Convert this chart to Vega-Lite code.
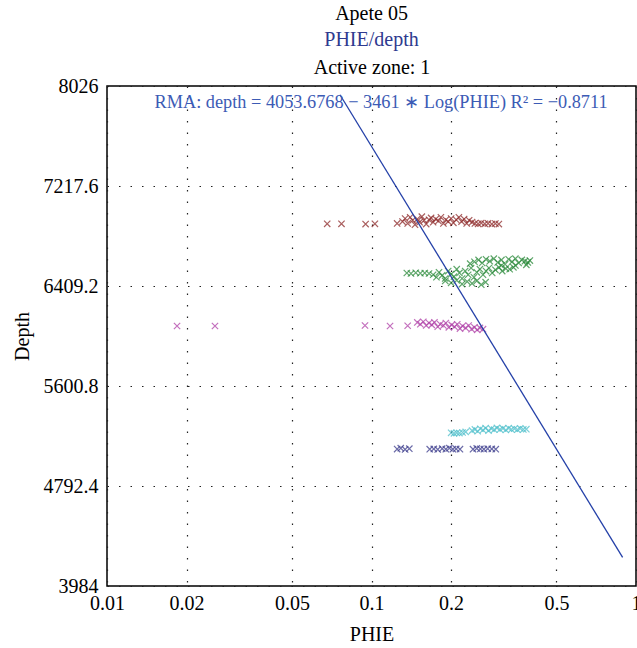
{
  "$schema": "https://vega.github.io/schema/vega-lite/v6.json",
  "width": 529,
  "height": 500,
  "autosize": {"type": "none"},
  "padding": {"left": 107, "top": 86, "right": 1, "bottom": 62},
  "background": "white",
  "config": {
    "view": {"stroke": "black", "strokeWidth": 1.5},
    "font": "Liberation Serif"
  },
  "title": {
    "text": "Apete 05",
    "subtitle": "PHIE/depth",
    "color": "black",
    "subtitleColor": "#2e3a8f",
    "fontSize": 20,
    "subtitleFontSize": 20,
    "fontWeight": "normal",
    "font": "Liberation Serif",
    "subtitleFont": "Liberation Serif",
    "anchor": "middle",
    "offset": 7,
    "subtitlePadding": 6
  },
  "datasets": {
    "pts": [
      {"s":"A","phie":0.068,"depth":6912},{"s":"A","phie":0.077,"depth":6912},{"s":"A","phie":0.095,"depth":6910},{"s":"A","phie":0.103,"depth":6912},{"s":"A","phie":0.125,"depth":6915},
      {"s":"A","phie":0.131,"depth":6930},{"s":"A","phie":0.134,"depth":6955},{"s":"A","phie":0.137,"depth":6915},{"s":"A","phie":0.14,"depth":6965},{"s":"A","phie":0.143,"depth":6940},{"s":"A","phie":0.146,"depth":6905},{"s":"A","phie":0.149,"depth":6950},{"s":"A","phie":0.152,"depth":6925},{"s":"A","phie":0.155,"depth":6970},{"s":"A","phie":0.158,"depth":6940},{"s":"A","phie":0.161,"depth":6910},{"s":"A","phie":0.165,"depth":6945},{"s":"A","phie":0.168,"depth":6960},{"s":"A","phie":0.171,"depth":6925},{"s":"A","phie":0.175,"depth":6950},{"s":"A","phie":0.179,"depth":6935},{"s":"A","phie":0.183,"depth":6965},{"s":"A","phie":0.187,"depth":6915},{"s":"A","phie":0.191,"depth":6945},{"s":"A","phie":0.195,"depth":6930},{"s":"A","phie":0.2,"depth":6955},{"s":"A","phie":0.204,"depth":6920},{"s":"A","phie":0.209,"depth":6945},{"s":"A","phie":0.214,"depth":6965},{"s":"A","phie":0.219,"depth":6930},{"s":"A","phie":0.224,"depth":6950},{"s":"A","phie":0.229,"depth":6915},{"s":"A","phie":0.234,"depth":6940},{"s":"A","phie":0.24,"depth":6925},
      {"s":"A","phie":0.246,"depth":6915},{"s":"A","phie":0.253,"depth":6912},{"s":"A","phie":0.26,"depth":6918},{"s":"A","phie":0.268,"depth":6912},{"s":"A","phie":0.276,"depth":6915},{"s":"A","phie":0.285,"depth":6910},{"s":"A","phie":0.294,"depth":6914},{"s":"A","phie":0.303,"depth":6910},
      {"s":"B","phie":0.136,"depth":6514},{"s":"B","phie":0.141,"depth":6510},{"s":"B","phie":0.147,"depth":6516},{"s":"B","phie":0.153,"depth":6512},{"s":"B","phie":0.159,"depth":6514},{"s":"B","phie":0.165,"depth":6510},
      {"s":"B","phie":0.171,"depth":6500},{"s":"B","phie":0.176,"depth":6480},{"s":"B","phie":0.18,"depth":6520},{"s":"B","phie":0.185,"depth":6495},{"s":"B","phie":0.19,"depth":6470},{"s":"B","phie":0.195,"depth":6530},{"s":"B","phie":0.2,"depth":6505},{"s":"B","phie":0.205,"depth":6485},{"s":"B","phie":0.21,"depth":6545},{"s":"B","phie":0.215,"depth":6515},{"s":"B","phie":0.22,"depth":6470},{"s":"B","phie":0.226,"depth":6530},{"s":"B","phie":0.232,"depth":6500},{"s":"B","phie":0.238,"depth":6555},{"s":"B","phie":0.244,"depth":6480},{"s":"B","phie":0.25,"depth":6520},{"s":"B","phie":0.257,"depth":6545},{"s":"B","phie":0.264,"depth":6500},{"s":"B","phie":0.271,"depth":6530},{"s":"B","phie":0.278,"depth":6555},{"s":"B","phie":0.286,"depth":6515},{"s":"B","phie":0.294,"depth":6540},{"s":"B","phie":0.303,"depth":6560},{"s":"B","phie":0.312,"depth":6530},{"s":"B","phie":0.322,"depth":6550},{"s":"B","phie":0.333,"depth":6545},{"s":"B","phie":0.344,"depth":6560},
      {"s":"B","phie":0.236,"depth":6590},{"s":"B","phie":0.245,"depth":6605},{"s":"B","phie":0.254,"depth":6620},{"s":"B","phie":0.262,"depth":6595},{"s":"B","phie":0.271,"depth":6625},{"s":"B","phie":0.28,"depth":6610},{"s":"B","phie":0.29,"depth":6630},{"s":"B","phie":0.3,"depth":6600},{"s":"B","phie":0.31,"depth":6620},{"s":"B","phie":0.32,"depth":6585},{"s":"B","phie":0.33,"depth":6625},{"s":"B","phie":0.34,"depth":6605},{"s":"B","phie":0.35,"depth":6630},{"s":"B","phie":0.36,"depth":6595},{"s":"B","phie":0.37,"depth":6620},{"s":"B","phie":0.38,"depth":6610},{"s":"B","phie":0.39,"depth":6600},{"s":"B","phie":0.397,"depth":6615},{"s":"B","phie":0.31,"depth":6575},{"s":"B","phie":0.35,"depth":6575},{"s":"B","phie":0.385,"depth":6580},
      {"s":"B","phie":0.19,"depth":6450},{"s":"B","phie":0.2,"depth":6435},{"s":"B","phie":0.21,"depth":6455},{"s":"B","phie":0.22,"depth":6425},{"s":"B","phie":0.23,"depth":6445},{"s":"B","phie":0.24,"depth":6430},{"s":"B","phie":0.25,"depth":6450},{"s":"B","phie":0.26,"depth":6420},{"s":"B","phie":0.27,"depth":6440},
      {"s":"C","phie":0.0184,"depth":6086},{"s":"C","phie":0.0256,"depth":6086},{"s":"C","phie":0.0945,"depth":6090},{"s":"C","phie":0.1175,"depth":6086},{"s":"C","phie":0.137,"depth":6088},
      {"s":"C","phie":0.149,"depth":6115},{"s":"C","phie":0.153,"depth":6100},{"s":"C","phie":0.157,"depth":6120},{"s":"C","phie":0.161,"depth":6090},{"s":"C","phie":0.165,"depth":6110},{"s":"C","phie":0.169,"depth":6095},{"s":"C","phie":0.173,"depth":6115},{"s":"C","phie":0.178,"depth":6080},{"s":"C","phie":0.182,"depth":6100},{"s":"C","phie":0.187,"depth":6090},{"s":"C","phie":0.191,"depth":6110},{"s":"C","phie":0.196,"depth":6075},{"s":"C","phie":0.201,"depth":6095},{"s":"C","phie":0.206,"depth":6080},{"s":"C","phie":0.211,"depth":6100},{"s":"C","phie":0.216,"depth":6065},{"s":"C","phie":0.221,"depth":6085},{"s":"C","phie":0.227,"depth":6070},{"s":"C","phie":0.233,"depth":6090},{"s":"C","phie":0.239,"depth":6060},{"s":"C","phie":0.245,"depth":6075},{"s":"C","phie":0.251,"depth":6055},{"s":"C","phie":0.257,"depth":6070},{"s":"C","phie":0.264,"depth":6060},
      {"s":"D","phie":0.2,"depth":5222},{"s":"D","phie":0.205,"depth":5218},{"s":"D","phie":0.21,"depth":5222},{"s":"D","phie":0.215,"depth":5220},{"s":"D","phie":0.221,"depth":5225},{"s":"D","phie":0.227,"depth":5230},
      {"s":"D","phie":0.24,"depth":5240},{"s":"D","phie":0.246,"depth":5250},{"s":"D","phie":0.252,"depth":5235},{"s":"D","phie":0.258,"depth":5255},{"s":"D","phie":0.264,"depth":5245},{"s":"D","phie":0.27,"depth":5260},{"s":"D","phie":0.277,"depth":5240},{"s":"D","phie":0.284,"depth":5255},{"s":"D","phie":0.291,"depth":5248},{"s":"D","phie":0.298,"depth":5262},{"s":"D","phie":0.306,"depth":5250},{"s":"D","phie":0.314,"depth":5258},{"s":"D","phie":0.322,"depth":5245},{"s":"D","phie":0.33,"depth":5260},{"s":"D","phie":0.338,"depth":5250},{"s":"D","phie":0.347,"depth":5255},{"s":"D","phie":0.356,"depth":5248},{"s":"D","phie":0.365,"depth":5258},{"s":"D","phie":0.375,"depth":5250},{"s":"D","phie":0.385,"depth":5252},
      {"s":"E","phie":0.125,"depth":5091},{"s":"E","phie":0.129,"depth":5098},{"s":"E","phie":0.134,"depth":5088},{"s":"E","phie":0.139,"depth":5094},
      {"s":"E","phie":0.166,"depth":5090},{"s":"E","phie":0.172,"depth":5092},{"s":"E","phie":0.178,"depth":5088},{"s":"E","phie":0.185,"depth":5094},{"s":"E","phie":0.191,"depth":5090},{"s":"E","phie":0.197,"depth":5098},{"s":"E","phie":0.203,"depth":5090},{"s":"E","phie":0.209,"depth":5092},{"s":"E","phie":0.216,"depth":5090},
      {"s":"E","phie":0.242,"depth":5090},{"s":"E","phie":0.25,"depth":5096},{"s":"E","phie":0.258,"depth":5092},{"s":"E","phie":0.266,"depth":5090},{"s":"E","phie":0.275,"depth":5094},{"s":"E","phie":0.285,"depth":5092},{"s":"E","phie":0.295,"depth":5090}
    ],
    "fit": [
      {"phie": 0.076, "depth": 7955},
      {"phie": 0.89, "depth": 4215}
    ],
    "note": [
      {"phie": 0.1087, "depth": 7889, "label": "RMA: depth = 4053.6768 − 3461 ∗ Log(PHIE) R² = −0.8711"}
    ]
  },
  "layer": [
    {
      "data": {"name": "pts"},
      "mark": {"type": "point", "shape": "M-1,-1L1,1M1,-1L-1,1", "filled": false, "size": 40, "strokeWidth": 1.2, "opacity": 0.75},
      "encoding": {
        "x": {
          "field": "phie", "type": "quantitative",
          "scale": {"type": "log", "domain": [0.01, 1], "nice": false},
          "axis": {
            "orient": "bottom",
            "values": [0.01, 0.02, 0.05, 0.1, 0.2, 0.5, 1],
            "labelExpr": "datum.value",
            "labelFont": "Liberation Serif", "labelFontSize": 20, "labelColor": "black",
            "labelPadding": 7, "labelFlush": false, "labelOverlap": false,
            "ticks": false, "domain": false,
            "grid": true, "gridColor": "#222", "gridDash": [1.5, 10], "gridWidth": 1.2,
            "title": "PHIE", "titleFont": "Liberation Serif", "titleFontSize": 20, "titleFontWeight": "normal", "titleColor": "black", "titlePadding": 11
          }
        },
        "y": {
          "field": "depth", "type": "quantitative",
          "scale": {"domain": [3984, 8026], "nice": false, "zero": false},
          "axis": {
            "values": [3984, 4792.4, 5600.8, 6409.2, 7217.6, 8026],
            "labelExpr": "datum.value",
            "labelFont": "Liberation Serif", "labelFontSize": 20, "labelColor": "black",
            "labelPadding": 9, "labelFlush": false, "labelOverlap": false,
            "ticks": false, "domain": false,
            "grid": true, "gridColor": "#222", "gridDash": [1.5, 10], "gridWidth": 1.2,
            "title": "Depth", "titleFont": "Liberation Serif", "titleFontSize": 20, "titleFontWeight": "normal", "titleColor": "black", "titlePadding": 11
          }
        },
        "color": {
          "field": "s", "type": "nominal", "legend": null,
          "scale": {"domain": ["A", "B", "C", "D", "E"], "range": ["#8e2a2a", "#2a8a3a", "#b040a8", "#4fc0cc", "#3b3b8c"]}
        }
      }
    },
    {
      "data": {"name": "fit"},
      "mark": {"type": "line", "color": "#2440a8", "strokeWidth": 1.3},
      "encoding": {
        "x": {
          "field": "phie", "type": "quantitative",
          "axis": {
            "orient": "top", "labels": false, "ticks": false, "domain": false, "grid": false,
            "title": "Active zone: 1", "titleFont": "Liberation Serif", "titleFontSize": 20, "titleFontWeight": "normal", "titleColor": "black", "titlePadding": 9
          }
        },
        "y": {"field": "depth", "type": "quantitative"}
      }
    },
    {
      "data": {"name": "note"},
      "mark": {"type": "text", "font": "Liberation Serif", "fontSize": 18.3, "color": "#3c5bb5", "align": "center", "baseline": "middle"},
      "encoding": {
        "x": {"field": "phie", "type": "quantitative", "axis": null},
        "y": {"field": "depth", "type": "quantitative"},
        "text": {"field": "label"}
      }
    }
  ],
  "resolve": {"axis": {"x": "independent"}}
}
